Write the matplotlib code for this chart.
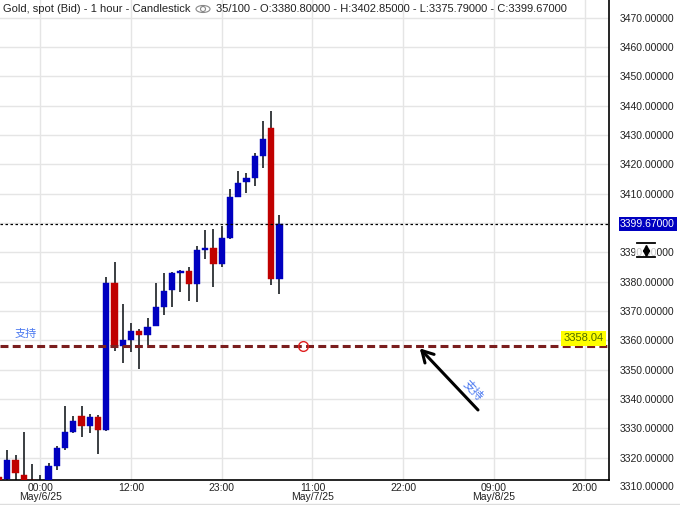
import matplotlib
matplotlib.use("Agg")
import matplotlib.pyplot as plt
import matplotlib.transforms as mtransforms
from matplotlib.patches import Rectangle, Ellipse
from matplotlib.lines import Line2D

# ---------------- data ----------------
opens  = [3313.5, 3312.8, 3319.3, 3314.0, 3312.6, 3310.8, 3312.0, 3317.3, 3323.4, 3328.8,
          3334.2, 3330.8, 3333.9, 3329.6, 3379.6, 3358.2, 3360.1, 3363.2, 3361.9, 3365.0,
          3371.5, 3377.2, 3383.0, 3383.6, 3379.2, 3390.8, 3391.5, 3386.0, 3394.9, 3408.9,
          3414.0, 3415.3, 3422.8, 3432.4, 3380.8]
highs  = [3314.0, 3322.7, 3321.0, 3328.7, 3317.9, 3314.2, 3318.2, 3324.0, 3337.6, 3334.2,
          3337.6, 3335.0, 3334.6, 3381.6, 3386.7, 3372.4, 3365.9, 3363.8, 3367.6, 3379.6,
          3383.0, 3383.3, 3384.0, 3385.0, 3392.2, 3397.6, 3398.0, 3399.0, 3411.6, 3417.7,
          3417.0, 3423.9, 3434.8, 3438.2, 3402.85]
lows   = [3309.0, 3312.0, 3311.5, 3312.3, 3311.5, 3310.0, 3311.0, 3315.8, 3322.7, 3328.5,
          3327.2, 3328.5, 3321.3, 3329.3, 3356.5, 3352.4, 3356.2, 3350.3, 3358.5, 3364.8,
          3368.6, 3371.5, 3376.5, 3373.4, 3373.1, 3387.7, 3378.2, 3385.1, 3394.5, 3408.7,
          3410.3, 3412.6, 3418.7, 3378.9, 3375.79]
closes = [3311.0, 3319.3, 3314.7, 3312.6, 3312.0, 3311.5, 3317.2, 3323.3, 3328.8, 3332.5,
          3330.8, 3333.9, 3329.4, 3379.6, 3358.2, 3360.1, 3363.2, 3361.9, 3364.6, 3371.4,
          3376.8, 3383.0, 3383.6, 3379.2, 3390.8, 3391.5, 3386.0, 3394.9, 3408.9, 3413.6,
          3415.3, 3422.8, 3428.6, 3380.8, 3399.67]

x_tick_pos = [5, 16, 27, 38, 49, 60, 71]
x_tick_labels = ["00:00\nMay/6/25", "12:00", "23:00", "11:00\nMay/7/25",
                 "22:00", "09:00\nMay/8/25", "20:00"]
y_ticks = list(range(3310, 3480, 10))

support_level = 3358.04
last_close = 3399.67
title_left = "Gold, spot (Bid) - 1 hour - Candlestick"
title_right = "35/100 - O:3380.80000 - H:3402.85000 - L:3375.79000 - C:3399.67000"

UP = "#0000c0"
DOWN = "#c00000"
WICK = "#2b2f33"

plt.rcParams['font.family'] = ['Liberation Sans', 'DejaVu Sans']

W, H = 680, 505
fig = plt.figure(figsize=(W / 100, H / 100), dpi=100)
fig.patch.set_facecolor("white")


def fx(px):
    return px / W


def fy(py):
    return 1 - py / H


ax = fig.add_axes([0, fy(480), fx(609), 480 / H])
ax.set_facecolor("white")

# grid
for yv in y_ticks:
    ax.axhline(yv, color="#e5e5e5", lw=1.0, zorder=0)
for xv in x_tick_pos:
    ax.axvline(xv, color="#e5e5e5", lw=1.0, zorder=0)

# candles
idx = list(range(len(opens)))
for i in idx:
    o, h, l, c = opens[i], highs[i], lows[i], closes[i]
    col = UP if c >= o else DOWN
    ax.vlines(i, l, h, color=WICK, lw=1.3, zorder=2)
    ax.bar(i, abs(c - o), bottom=min(o, c), width=0.78, color=col,
           edgecolor=col, linewidth=0.3, zorder=3)

# last price line
ax.axhline(last_close, color="black", lw=0.9, linestyle=(0, (2, 2)), zorder=4)
# support line
ax.axhline(support_level, color="#7a1e1e", lw=2.2, linestyle=(0, (2.6, 1.4)), zorder=4)
ax.plot([36.85], [support_level], marker="o", mfc="none", mec="#e02020", ms=7, mew=1.0, zorder=5)

cjk = ['Noto Sans CJK SC', 'DejaVu Sans']
ax.text(3.27, 3362.2, "支持", color="#4a78f0", fontsize=8, family=cjk,
        ha="center", va="center", zorder=6)
ax.annotate("", xy=(51.0, 3357.3), xytext=(58.06, 3336.3),
            arrowprops=dict(arrowstyle="->,head_length=0.8,head_width=0.45",
                            lw=2.2, color="black", shrinkA=0, shrinkB=0), zorder=6)
ax.text(57.45, 3343.1, "支持", color="#4a78f0", fontsize=8.5, family=cjk,
        rotation=-47, ha="center", va="center", zorder=6)

# yellow support label
ax.text(73.3, 3360.7, "3358.04", color="#4d6b00", fontsize=8, ha="right", va="center",
        bbox=dict(boxstyle="square,pad=0.2", fc="#ffff00", ec="none"), zorder=7)

# axes limits
ax.set_xlim(0.121, 73.94)
ax.set_ylim(3312.44, 3475.98)

# spines
for s in ["left", "top"]:
    ax.spines[s].set_visible(False)
ax.spines["right"].set_color("black")
ax.spines["bottom"].set_color("black")
ax.spines["right"].set_linewidth(1.2)
ax.spines["bottom"].set_linewidth(1.2)

# y ticks on right
ax.yaxis.tick_right()
ax.set_yticks([v for v in y_ticks if v >= 3320])
ax.set_yticklabels(["" if v == 3400 else f"{v:.5f}" for v in y_ticks if v >= 3320])
ax.tick_params(axis="y", length=0, pad=8, labelsize=7.5, labelcolor="#222222")

blend = mtransforms.blended_transform_factory(ax.transAxes, ax.transData)
ax.annotate("3310.00000", xy=(1, 3310), xycoords=blend, xytext=(8, 0),
            textcoords="offset points", ha="left", va="center", fontsize=7.5,
            color="#222222", annotation_clip=False)
ax.annotate(f"{last_close:.5f}", xy=(1, last_close), xycoords=blend, xytext=(8, 0),
            textcoords="offset points", ha="left", va="center", fontsize=7.5,
            color="white", annotation_clip=False,
            bbox=dict(boxstyle="square,pad=0.15", fc="#0000c0", ec="none"))

# x ticks
ax.set_xticks(x_tick_pos)
ax.set_xticklabels(x_tick_labels, linespacing=0.85)
ax.tick_params(axis="x", length=0, pad=2, labelsize=7.5, labelcolor="#222222")

# title
fig.text(fx(3), fy(9), title_left, fontsize=8, color="#222222", ha="left", va="center")
fig.text(fx(216), fy(9), title_right, fontsize=8, color="#222222", ha="left", va="center")
fig.add_artist(Ellipse((fx(203), fy(9)), 14 / W, 7 / H, transform=fig.transFigure,
                       fill=False, ec="#888888", lw=0.8))
fig.add_artist(Ellipse((fx(203), fy(9)), 5 / W, 5 / H, transform=fig.transFigure,
                       fill=False, ec="#888888", lw=0.8))

# scroll icon on the price axis
fig.add_artist(Rectangle((fx(635), fy(260)), 22 / W, 20 / H, transform=fig.transFigure,
                         fc="white", ec="none", alpha=0.75))
fig.add_artist(Line2D([fx(637), fx(655)], [fy(243), fy(243)], transform=fig.transFigure,
                      color="black", lw=1.3))
fig.add_artist(Line2D([fx(637), fx(655)], [fy(257), fy(257)], transform=fig.transFigure,
                      color="black", lw=1.3))
fig.add_artist(Line2D([fx(646)], [fy(248)], transform=fig.transFigure, marker="^",
                      ms=4, color="black", lw=0))
fig.add_artist(Line2D([fx(646)], [fy(252.5)], transform=fig.transFigure, marker="v",
                      ms=4, color="black", lw=0))

fig.add_artist(Line2D([0, 1], [fy(503.5), fy(503.5)], transform=fig.transFigure,
                      color="#dddddd", lw=1))

fig.savefig("out.png", dpi=100)
